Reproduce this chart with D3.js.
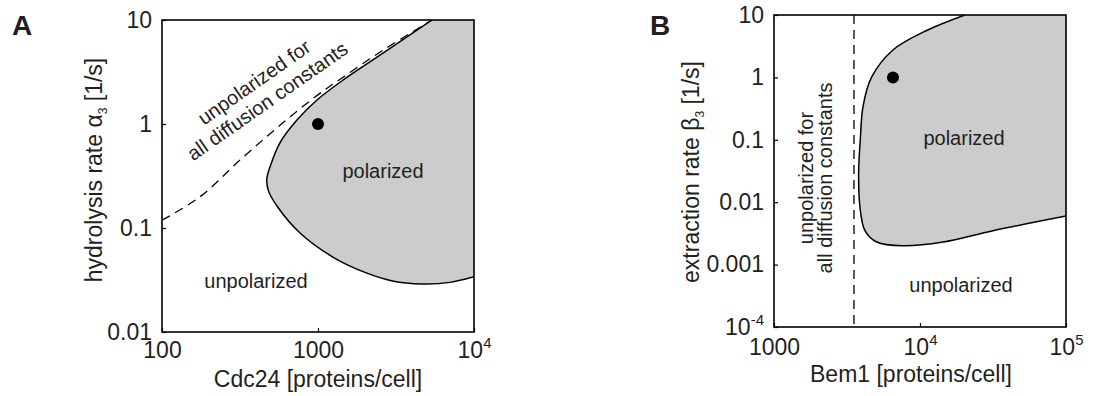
<!DOCTYPE html>
<html>
<head>
<meta charset="utf-8">
<script src="https://cdn.jsdelivr.net/npm/d3@7"></script>
<style>
  body { margin: 0; background: #fff; }
  svg text { font-family: "Liberation Sans", Arial, Helvetica, sans-serif; fill: #231f20; }
</style>
</head>
<body>
<div id="chart"></div>
<script>
// Panel A: Cdc24 vs hydrolysis rate alpha3
const cdc24Boundary = [5380, 2610, 1450, 985, 733, 570, 492, 470, 480, 550, 770, 1260, 2040, 3000, 4640, 7000, 10000];
const alphaBoundary = [10, 4.8, 2.65, 1.70, 1.09, 0.66, 0.386, 0.30, 0.23, 0.16, 0.089, 0.052, 0.037, 0.031, 0.029, 0.030, 0.034];
const cdc24Dashed = [100, 175, 316, 545, 957, 1440, 2600, 5380];
const alphaDashed = [0.119, 0.199, 0.45, 0.916, 1.82, 2.8, 5.1, 10];
const cdc24Ticks = [100, 1000, 10000];
const cdc24TickLabels = ["100", "1000", "10^4"];
const alphaTicks = [0.01, 0.1, 1, 10];
const alphaTickLabels = ["0.01", "0.1", "1", "10"];
const pointA = [1000, 1];

// Panel B: Bem1 vs extraction rate beta3
const bem1Boundary = [20300, 11200, 6530, 4650, 4070, 3900, 3800, 3880, 4200, 5050, 7640, 14400, 31600, 100000];
const betaBoundary = [10, 5.7, 2.75, 1.0, 0.34, 0.1, 0.03, 0.0083, 0.0035, 0.0023, 0.002, 0.0023, 0.0035, 0.006];
const bem1Dashed = 3530;
const bem1Ticks = [1000, 10000, 100000];
const bem1TickLabels = ["1000", "10^4", "10^5"];
const betaTicks = [1e-4, 1e-3, 1e-2, 0.1, 1, 10];
const betaTickLabels = ["10^-4", "0.001", "0.01", "0.1", "1", "10"];
const pointB = [6530, 1];

const svg = d3.select("#chart").append("svg")
  .attr("width", 1118)
  .attr("height", 396);

function setLabel(sel, labels, ticks) {
  sel.each(function(d) {
    const s = labels[ticks.indexOf(d)];
    const t = d3.select(this).text(null);
    const parts = s.split("^");
    t.append("tspan").text(parts[0]);
    if (parts.length > 1) {
      t.append("tspan").attr("dy", -10).attr("font-size", 15).text(parts[1]);
    }
  });
}

function drawPanel(p) {
  const g = svg.append("g").attr("transform", `translate(${p.left}, ${p.top})`);
  const x = d3.scaleLog().domain(p.xDomain).range([0, p.width]);
  const y = d3.scaleLog().domain(p.yDomain).range([p.height, 0]);

  g.append("clipPath").attr("id", p.id + "-clip")
    .append("rect").attr("width", p.width).attr("height", p.height);
  const plot = g.append("g").attr("clip-path", `url(#${p.id}-clip)`);

  const pts = p.bx.map((v, i) => [v, p.by[i]]);
  const line = d3.line().x(d => x(d[0])).y(d => y(d[1])).curve(d3.curveCatmullRom);

  // polarized region
  plot.append("path")
    .attr("d", line(pts) + `L${x(p.xDomain[1])},${y(p.yDomain[1])}Z`)
    .attr("fill", "#cccccc");
  plot.append("path")
    .attr("d", line(pts))
    .attr("fill", "none")
    .attr("stroke", "#000")
    .attr("stroke-width", 1.5);

  // dashed boundary
  if (p.dashed) {
    plot.append("path")
      .attr("d", line(p.dashed))
      .attr("fill", "none")
      .attr("stroke", "#000")
      .attr("stroke-width", 1.3)
      .attr("stroke-dasharray", "9,6");
  }

  plot.append("circle")
    .attr("cx", x(p.point[0]))
    .attr("cy", y(p.point[1]))
    .attr("r", 6)
    .attr("fill", "#000");

  // axes
  const xa = g.append("g")
    .attr("transform", `translate(0, ${p.height})`)
    .call(d3.axisBottom(x).tickValues(p.xTicks).tickSize(-4).tickPadding(p.xPad));
  setLabel(xa.selectAll(".tick text"), p.xLabels, p.xTicks);

  const ya = g.append("g")
    .call(d3.axisLeft(y).tickValues(p.yTicks).tickSize(-4).tickPadding(10));
  setLabel(ya.selectAll(".tick text"), p.yLabels, p.yTicks);

  [xa, ya].forEach(a => {
    a.selectAll(".domain").remove();
    a.selectAll("line").attr("stroke", "#000").attr("stroke-width", 1.2);
    a.selectAll("text").attr("font-size", 23).attr("fill", "#231f20")
      .attr("font-family", "Liberation Sans, Arial, sans-serif");
  });

  g.append("rect")
    .attr("width", p.width)
    .attr("height", p.height)
    .attr("fill", "none")
    .attr("stroke", "#000")
    .attr("stroke-width", 1.6);

  // axis titles
  g.append("text")
    .attr("x", p.width / 2 + p.xTitleDx)
    .attr("y", p.height + 55)
    .attr("text-anchor", "middle")
    .attr("font-size", 23)
    .text(p.xTitle);

  const yt = g.append("text")
    .attr("transform", `translate(${p.yTitleX}, ${p.yTitleY}) rotate(-90)`)
    .attr("text-anchor", "middle")
    .attr("font-size", 23);
  yt.append("tspan").text(p.yTitle[0]);
  yt.append("tspan").attr("dy", 5).attr("font-size", 12).text("3");
  yt.append("tspan").attr("dy", -5).text(p.yTitle[1]);

  svg.append("text")
    .attr("x", p.letterX)
    .attr("y", 35)
    .attr("font-size", 28)
    .attr("font-weight", "bold")
    .text(p.letter);

  return {g, x, y};
}

// Panel A
const A = drawPanel({
  id: "a", left: 162, top: 20, width: 312, height: 312,
  xDomain: [100, 10000], yDomain: [0.01, 10],
  bx: cdc24Boundary, by: alphaBoundary,
  dashed: cdc24Dashed.map((v, i) => [v, alphaDashed[i]]),
  point: pointA,
  xTicks: cdc24Ticks, xLabels: cdc24TickLabels, xPad: 10,
  yTicks: alphaTicks, yLabels: alphaTickLabels,
  xTitle: "Cdc24 [proteins/cell]", xTitleDx: 0,
  yTitle: ["hydrolysis rate \u03b1", " [1/s]"], yTitleX: -60, yTitleY: 150,
  letter: "A", letterX: 12
});

A.g.append("text")
  .attr("x", 221).attr("y", 158)
  .attr("text-anchor", "middle").attr("font-size", 20)
  .text("polarized");
A.g.append("text")
  .attr("x", 94).attr("y", 268)
  .attr("text-anchor", "middle").attr("font-size", 20)
  .text("unpolarized");
const rotA = A.g.append("g").attr("transform", "translate(99, 72) rotate(-35)");
rotA.append("text").attr("y", -5).attr("text-anchor", "middle").attr("font-size", 20).text("unpolarized for");
rotA.append("text").attr("y", 18).attr("text-anchor", "middle").attr("font-size", 20).text("all diffusion constants");

// Panel B
const B = drawPanel({
  id: "b", left: 774, top: 15, width: 292, height: 312,
  xDomain: [1000, 100000], yDomain: [1e-4, 10],
  bx: bem1Boundary, by: betaBoundary,
  dashed: null,
  point: pointB,
  xTicks: bem1Ticks, xLabels: bem1TickLabels, xPad: 12,
  yTicks: betaTicks, yLabels: betaTickLabels,
  xTitle: "Bem1 [proteins/cell]", xTitleDx: -9,
  yTitle: ["extraction rate \u03b2", " [1/s]"], yTitleX: -75, yTitleY: 157,
  letter: "B", letterX: 650
});

B.g.append("line")
  .attr("x1", B.x(bem1Dashed)).attr("x2", B.x(bem1Dashed))
  .attr("y1", 0).attr("y2", 312)
  .attr("stroke", "#000").attr("stroke-width", 1.3)
  .attr("stroke-dasharray", "9,6");

B.g.append("text")
  .attr("x", 190).attr("y", 130)
  .attr("text-anchor", "middle").attr("font-size", 20)
  .text("polarized");
B.g.append("text")
  .attr("x", 187).attr("y", 277)
  .attr("text-anchor", "middle").attr("font-size", 20)
  .text("unpolarized");
B.g.append("text")
  .attr("transform", "translate(39, 163) rotate(-90)")
  .attr("text-anchor", "middle").attr("font-size", 20)
  .text("unpolarized for");
B.g.append("text")
  .attr("transform", "translate(58, 163) rotate(-90)")
  .attr("text-anchor", "middle").attr("font-size", 20)
  .text("all diffusion constants");
</script>
</body>
</html>
